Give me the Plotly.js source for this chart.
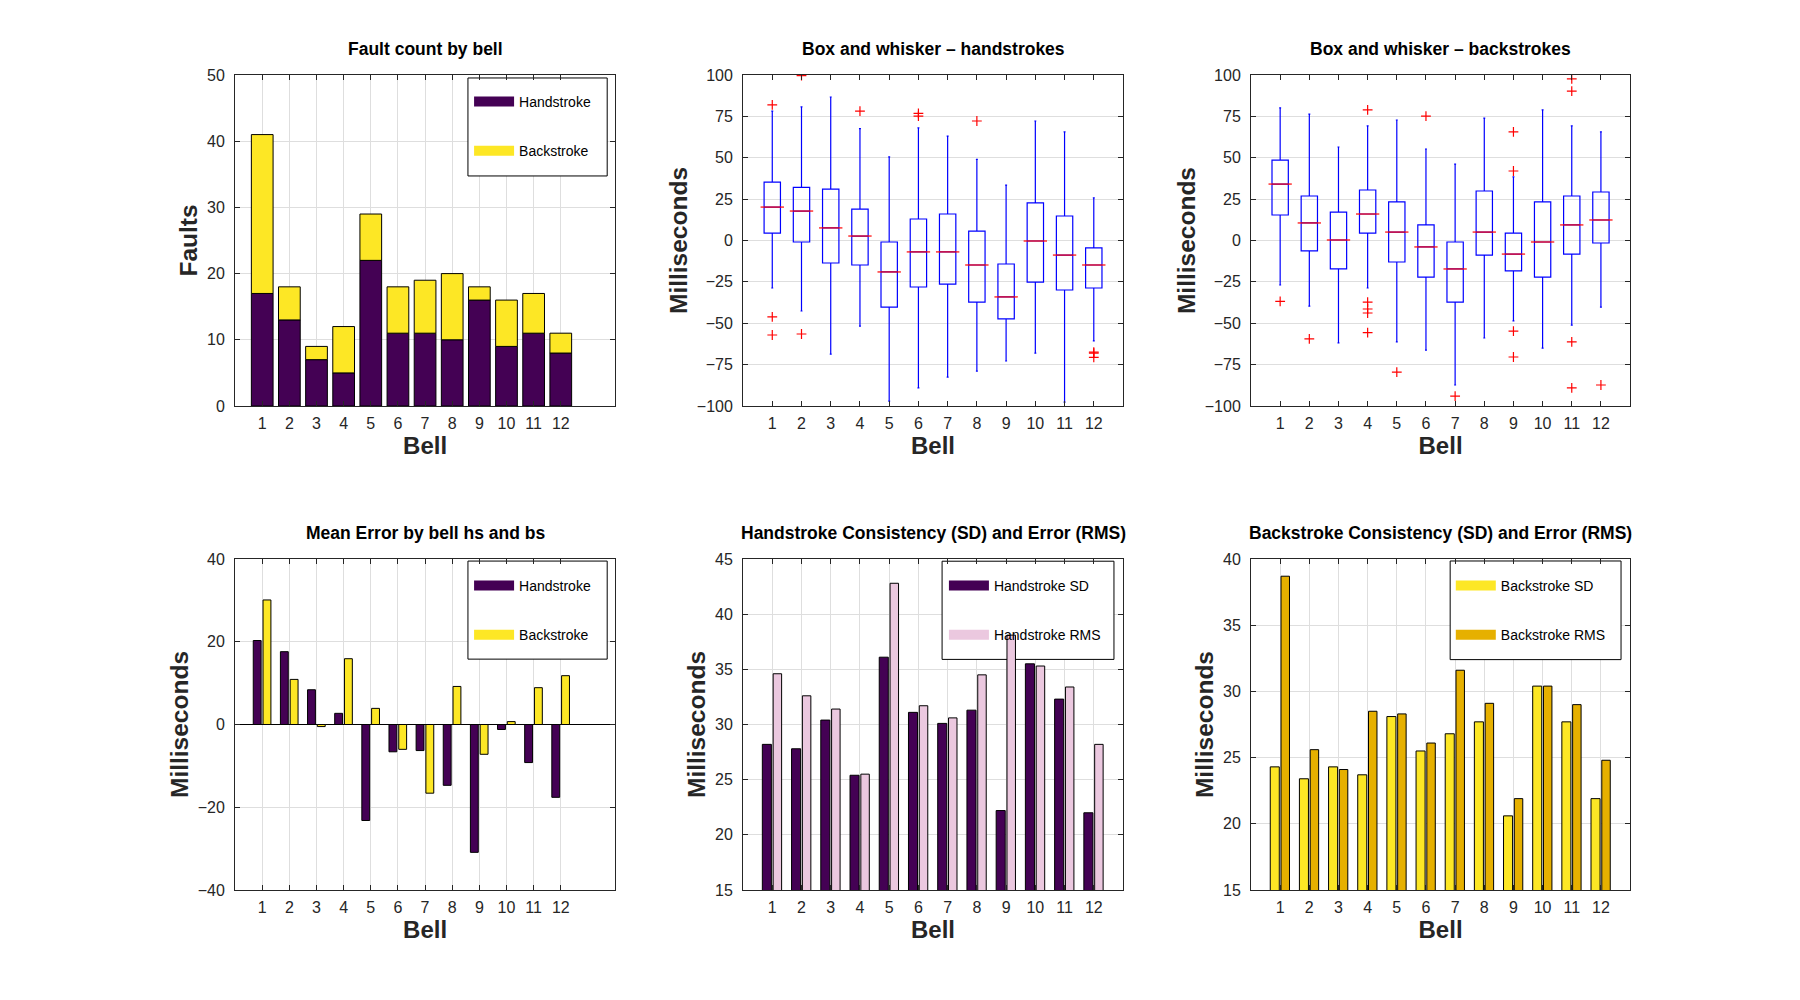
<!DOCTYPE html>
<html>
<head>
<meta charset="utf-8">
<script src="https://cdn.plot.ly/plotly-3.0.1.min.js"></script>
<style>
  html, body { margin: 0; padding: 0; background: #fff; }
  #chart { width: 1800px; height: 1000px; }
</style>
</head>
<body>
<div id="chart"></div>
<script>
// ---- data ----
const bells = [1, 2, 3, 4, 5, 6, 7, 8, 9, 10, 11, 12];
const bellLabels = ['1', '2', '3', '4', '5', '6', '7', '8', '9', '10', '11', '12'];

// fault counts (stacked)
const faultHs = [17, 13, 7, 5, 22, 11, 11, 10, 16, 9, 11, 8];
const faultBs = [24, 5, 2, 7, 7, 7, 8, 10, 2, 7, 6, 3];

// handstroke box stats
const hsQ1 = [4.5, -0.9, -13.6, -14.8, -40.2, -28.1, -26.3, -37.2, -47.4, -25.1, -29.9, -28.7];
const hsMed = [20.2, 17.8, 7.6, 2.7, -19.0, -6.9, -6.9, -14.8, -34.1, -0.3, -8.8, -14.8];
const hsQ3 = [35.3, 32.1, 31.1, 19.0, -0.9, 13.0, 16.0, 5.7, -14.2, 22.7, 14.8, -4.5];
const hsLo = [-28.7, -42.6, -68.6, -51.7, -97.0, -89.1, -82.5, -78.9, -72.8, -68.0, -97.6, -60.7];
const hsHi = [78.2, 80.7, 86.7, 67.6, 50.5, 68.0, 63.1, 49.0, 33.5, 72.2, 65.6, 25.7];
const hsOut = [[81.9, -46.2, -57.1], [99.6, -56.5], [], [78.2], [], [76.8, 75.2], [], [72.2], [], [], [], [-67.4, -68.0, -70.6]];

// backstroke box stats
const bsQ1 = [15.4, -6.3, -17.2, 4.5, -13.0, -22.1, -37.2, -8.8, -18.4, -22.1, -8.2, -1.5];
const bsMed = [34.1, 10.6, 0.3, 16.0, 5.1, -3.9, -17.2, 5.1, -8.2, -0.9, 9.4, 12.4];
const bsQ3 = [48.6, 26.9, 17.2, 30.5, 23.3, 9.4, -0.9, 29.9, 4.5, 23.3, 26.9, 29.3];
const bsLo = [-26.9, -39.6, -61.9, -28.7, -61.3, -66.2, -87.3, -58.9, -48.6, -65.0, -51.1, -40.2];
const bsHi = [80.1, 76.4, 56.5, 69.2, 72.8, 55.3, 46.2, 74.0, 38.4, 78.9, 69.2, 65.6];
const bsOut = [[-36.8], [-59.5], [], [78.9, -37.2, -41.4, -43.8, -55.7], [-79.5], [75.2], [-94.0], [], [65.6, 42.0, -54.7, -70.4], [], [97.6, 90.3, -61.3, -89.1], [-87.3]];

// mean error
const meanHs = [20.3, 17.6, 8.4, 2.7, -23.2, -6.6, -6.3, -14.7, -30.9, -1.2, -9.2, -17.6];
const meanBs = [30.1, 10.9, -0.5, 15.9, 3.9, -6.0, -16.6, 9.2, -7.2, 0.7, 8.9, 11.8];

// SD and RMS
const hsSd = [28.2, 27.8, 30.4, 25.4, 36.1, 31.1, 30.1, 31.3, 22.2, 35.5, 32.3, 22.0];
const hsRms = [34.6, 32.6, 31.4, 25.5, 42.8, 31.7, 30.6, 34.5, 38.1, 35.3, 33.4, 28.2];
const bsSd = [24.3, 23.4, 24.3, 23.7, 28.1, 25.5, 26.8, 27.7, 20.6, 30.4, 27.7, 21.9];
const bsRms = [38.7, 25.6, 24.1, 28.5, 28.3, 26.1, 31.6, 29.1, 21.9, 30.4, 29.0, 24.8];

// ---- styling ----
const PURPLE = '#440154';
const YELLOW = '#fde725';
const PINK = '#ebc8df';
const GOLD = '#e6b000';
const FONT = 'Liberation Sans, Arial, sans-serif';
const AX = '#262626';

const cols = [[0.1306, 0.3417], [0.4128, 0.6239], [0.695, 0.9056]];
const rows = [[0.594, 0.925], [0.110, 0.441]];

function barTrace(y, color, axis, offset, width, base) {
    const t = {
        type: 'bar', x: bells, y: y, xaxis: 'x' + axis, yaxis: 'y' + axis,
        offset: offset, width: width, showlegend: false, hoverinfo: 'y',
        marker: { color: color, line: { color: '#000', width: 1 } }
    };
    if (base) t.base = base;
    return t;
}

// legend entries are drawn with thick lines to get the wide swatch
function legendEntry(name, color, axis, legendId) {
    return {
        type: 'scatter', mode: 'lines', x: [null], y: [null], name: name,
        xaxis: 'x' + axis, yaxis: 'y' + axis, legend: legendId, legendgroup: name,
        line: { color: color, width: 10 }, hoverinfo: 'skip'
    };
}

function boxTraces(q1, med, q3, lo, hi, out, axis) {
    const box = {
        type: 'box', x: bells, q1: q1, median: med, q3: q3,
        lowerfence: lo, upperfence: hi, boxpoints: false,
        xaxis: 'x' + axis, yaxis: 'y' + axis, showlegend: false,
        line: { color: '#0000ff', width: 1.2 }, fillcolor: 'rgba(0,0,0,0)',
        whiskerwidth: 0.12
    };
    // red median bars
    const mx = [], my = [];
    bells.forEach((b, i) => {
        mx.push(b - 0.4, b + 0.4, null);
        my.push(med[i], med[i], null);
    });
    const medLine = {
        type: 'scatter', mode: 'lines', x: mx, y: my, showlegend: false,
        xaxis: 'x' + axis, yaxis: 'y' + axis, hoverinfo: 'skip',
        line: { color: '#ff0000', width: 1.2 }
    };
    const ox = [], oy = [];
    out.forEach((vals, i) => vals.forEach(v => { ox.push(bells[i]); oy.push(v); }));
    const outliers = {
        type: 'scatter', mode: 'markers', x: ox, y: oy, showlegend: false,
        xaxis: 'x' + axis, yaxis: 'y' + axis,
        marker: { symbol: 'cross-thin', size: 7, line: { color: '#ff0000', width: 1.2 } }
    };
    return [box, medLine, outliers];
}

const data = [
    barTrace(faultHs, PURPLE, '', -0.4, 0.8),
    barTrace(faultBs, YELLOW, '', -0.4, 0.8, faultHs),
    legendEntry('Handstroke', PURPLE, '', 'legend'),
    legendEntry('Backstroke', YELLOW, '', 'legend'),

    ...boxTraces(hsQ1, hsMed, hsQ3, hsLo, hsHi, hsOut, '2'),
    ...boxTraces(bsQ1, bsMed, bsQ3, bsLo, bsHi, bsOut, '3'),

    barTrace(meanHs, PURPLE, '4', -0.33, 0.29),
    barTrace(meanBs, YELLOW, '4', 0.03, 0.29),
    legendEntry('Handstroke', PURPLE, '4', 'legend2'),
    legendEntry('Backstroke', YELLOW, '4', 'legend2'),

    barTrace(hsSd, PURPLE, '5', -0.34, 0.31),
    barTrace(hsRms, PINK, '5', 0.03, 0.29),
    legendEntry('Handstroke SD', PURPLE, '5', 'legend3'),
    legendEntry('Handstroke RMS', PINK, '5', 'legend3'),

    barTrace(bsSd, YELLOW, '6', -0.34, 0.31),
    barTrace(bsRms, GOLD, '6', 0.03, 0.29),
    legendEntry('Backstroke SD', YELLOW, '6', 'legend4'),
    legendEntry('Backstroke RMS', GOLD, '6', 'legend4')
];

function xAxis(col, range, grid, anchor) {
    return {
        domain: cols[col], anchor: anchor, range: range,
        tickmode: 'array', tickvals: bells, ticktext: bellLabels,
        ticks: 'inside', ticklen: 5, tickcolor: AX, ticklabelstandoff: 3,
        showline: true, linecolor: AX, linewidth: 1, mirror: 'ticks',
        showgrid: grid, gridcolor: '#dedede', zeroline: false,
        tickfont: { family: FONT, size: 16, color: AX },
        title: { text: 'Bell', standoff: 3, font: { family: FONT, size: 24, color: AX, weight: 'bold' } }
    };
}

function yAxis(row, range, dtick, title, anchor, zero) {
    return {
        domain: rows[row], anchor: anchor, range: range, dtick: dtick, tick0: range[0],
        ticks: 'inside', ticklen: 5, tickcolor: AX, ticklabelstandoff: 6,
        showline: true, linecolor: AX, linewidth: 1, mirror: 'ticks',
        showgrid: true, gridcolor: '#dedede',
        zeroline: !!zero, zerolinecolor: '#000', zerolinewidth: 1,
        tickfont: { family: FONT, size: 16, color: AX },
        title: { text: title, standoff: 2, font: { family: FONT, size: 24.5, color: AX, weight: 'bold' } }
    };
}

function legendBox(x, y) {
    return {
        x: x, y: y, xanchor: 'left', yanchor: 'top',
        bgcolor: 'rgba(0,0,0,0)', borderwidth: 0,
        font: { family: FONT, size: 14, color: '#000' },
        tracegroupgap: 28, itemwidth: 40
    };
}

// white legend frames, drawn between the grid and the bars (data units of each panel)
function frame(axis, x0, x1, y0, y1) {
    return {
        type: 'rect', xref: 'x' + axis, yref: 'y' + axis,
        x0: x0, x1: x1, y0: y0, y1: y1, layer: 'between',
        fillcolor: '#fff', line: { color: '#000', width: 1 }
    };
}

const titles = [
    ['Fault count by bell', 0, 0],
    ['Box and whisker \u2013 handstrokes', 1, 0],
    ['Box and whisker \u2013 backstrokes', 2, 0],
    ['Mean Error by bell hs and bs', 0, 1],
    ['Handstroke Consistency (SD) and Error (RMS)', 1, 1],
    ['Backstroke Consistency (SD) and Error (RMS)', 2, 1]
];

const layout = {
    width: 1800, height: 1000,
    margin: { l: 0, r: 0, t: 0, b: 0 },
    paper_bgcolor: '#fff', plot_bgcolor: '#fff',
    barmode: 'overlay', boxgap: 0.2,
    font: { family: FONT, color: AX },
    xaxis: xAxis(0, [0, 14], true, 'y'),
    yaxis: yAxis(0, [0, 50], 10, 'Faults', 'x'),
    xaxis2: xAxis(1, [0, 13], false, 'y2'),
    yaxis2: yAxis(0, [-100, 100], 25, 'Milliseconds', 'x2'),
    xaxis3: xAxis(2, [0, 13], false, 'y3'),
    yaxis3: yAxis(0, [-100, 100], 25, 'Milliseconds', 'x3'),
    xaxis4: xAxis(0, [0, 14], true, 'y4'),
    yaxis4: yAxis(1, [-40, 40], 20, 'Milliseconds', 'x4', true),
    xaxis5: xAxis(1, [0, 13], true, 'y5'),
    yaxis5: yAxis(1, [15, 45], 5, 'Milliseconds', 'x5'),
    xaxis6: xAxis(2, [0, 13], true, 'y6'),
    yaxis6: yAxis(1, [15, 40], 5, 'Milliseconds', 'x6'),
    legend: legendBox(0.2606, 0.914),
    legend2: legendBox(0.2606, 0.430),
    legend3: legendBox(0.5244, 0.430),
    legend4: legendBox(0.806, 0.430),
    shapes: [
        frame('', 8.58, 13.71, 34.75, 49.55),
        frame('4', 8.58, 13.71, 15.8, 39.5),
        frame('5', 6.81, 12.69, 35.9, 44.8),
        frame('6', 6.83, 12.69, 32.4, 39.85)
    ],
    annotations: titles.map(([text, c, r]) => ({
        text: text, xref: 'paper', yref: 'paper',
        x: (cols[c][0] + cols[c][1]) / 2, y: r === 0 ? 0.951 : 0.467,
        xanchor: 'center', yanchor: 'middle', showarrow: false,
        font: { family: FONT, size: 17.5, color: '#000', weight: 'bold' }
    }))
};

Plotly.newPlot('chart', data, layout, { staticPlot: true });
</script>
</body>
</html>
